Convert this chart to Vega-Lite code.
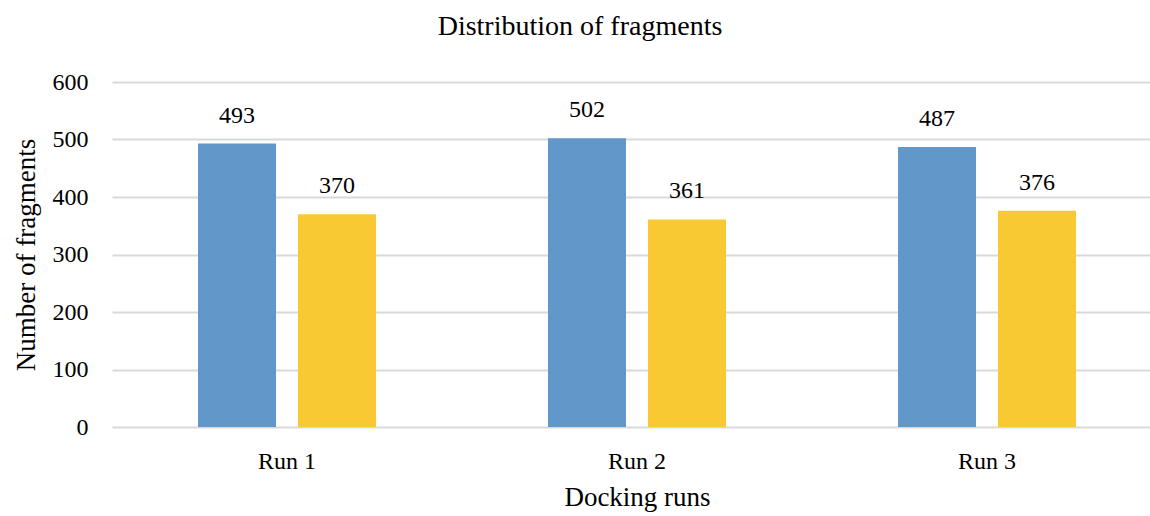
{
  "$schema": "https://vega.github.io/schema/vega-lite/v6.json",
  "autosize": {"type": "none"},
  "padding": {"left": 112, "top": 82, "right": 0, "bottom": 89},
  "width": 1050,
  "height": 345,
  "background": "white",
  "title": {
    "text": "Distribution of fragments",
    "font": "Liberation Serif",
    "fontSize": 28,
    "fontWeight": "normal",
    "color": "#000000",
    "anchor": "middle",
    "dx": -57,
    "offset": 29
  },
  "data": {
    "values": [
      {"run": "Run 1", "series": "A", "value": 493},
      {"run": "Run 1", "series": "B", "value": 370},
      {"run": "Run 2", "series": "A", "value": 502},
      {"run": "Run 2", "series": "B", "value": 361},
      {"run": "Run 3", "series": "A", "value": 487},
      {"run": "Run 3", "series": "B", "value": 376}
    ]
  },
  "encoding": {
    "x": {
      "field": "run",
      "type": "nominal",
      "scale": {"paddingInner": 0, "paddingOuter": 0},
      "axis": {
        "title": "Docking runs",
        "labelAngle": 0,
        "labelFont": "Liberation Serif",
        "labelFontSize": 24,
        "labelColor": "#000000",
        "labelPadding": 22,
        "titleFont": "Liberation Serif",
        "titleFontSize": 27,
        "titleFontWeight": "normal",
        "titleColor": "#000000",
        "titlePadding": 11,
        "ticks": false,
        "domain": false
      }
    },
    "xOffset": {
      "field": "series",
      "type": "nominal",
      "scale": {"paddingInner": 0.22, "paddingOuter": 0.86}
    },
    "y": {
      "field": "value",
      "type": "quantitative",
      "scale": {"domain": [0, 600]},
      "axis": {
        "title": "Number of fragments",
        "values": [0, 100, 200, 300, 400, 500, 600],
        "labelFont": "Liberation Serif",
        "labelFontSize": 24,
        "labelColor": "#000000",
        "labelPadding": 24,
        "titleFont": "Liberation Serif",
        "titleFontSize": 27,
        "titleFontWeight": "normal",
        "titleColor": "#000000",
        "titlePadding": 12,
        "ticks": false,
        "domain": false,
        "gridColor": "#D9D9D9",
        "gridWidth": 2
      }
    }
  },
  "layer": [
    {
      "mark": {"type": "bar"},
      "encoding": {
        "color": {
          "field": "series",
          "type": "nominal",
          "scale": {"domain": ["A", "B"], "range": ["#6297C9", "#F8C932"]},
          "legend": null
        }
      }
    },
    {
      "mark": {"type": "text", "baseline": "bottom", "dy": -16, "font": "Liberation Serif", "fontSize": 24, "color": "#000000"},
      "encoding": {
        "text": {"field": "value", "type": "quantitative"}
      }
    }
  ],
  "config": {"view": {"stroke": null}}
}
